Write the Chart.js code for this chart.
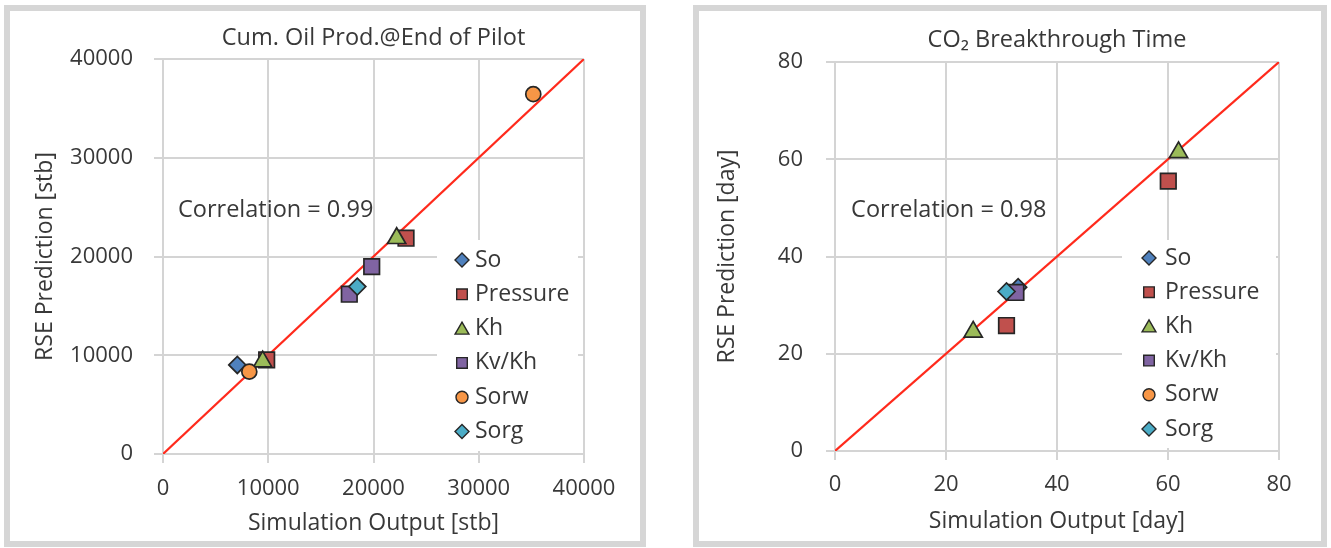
<!DOCTYPE html>
<html><head><meta charset="utf-8">
<script src="https://cdn.jsdelivr.net/npm/chart.js@4.4.0/dist/chart.umd.min.js"></script>
<style>
html,body{margin:0;padding:0;background:#fff;}
body{width:1331px;height:548px;position:relative;overflow:hidden;}
.panel{position:absolute;border:6px solid #d6d6d6;box-sizing:border-box;background:#fff;}
.cw{position:absolute;}
</style></head><body>
<div class="panel" style="left:4px;top:5px;width:642px;height:542px;"></div>
<div class="panel" style="left:693px;top:5px;width:634px;height:542px;"></div>
<div class="cw" style="left:11px;top:11px;width:628px;height:528px;"><canvas id="c1"></canvas></div>
<div class="cw" style="left:699px;top:11px;width:622px;height:528px;"><canvas id="c2"></canvas></div>
<script>
// ---------- data ----------
const seriesNames = ['So', 'Pressure', 'Kh', 'Kv/Kh', 'Sorw', 'Sorg'];

// Cum. Oil Prod. @ End of Pilot  (simulation output vs RSE prediction, stb)
const oilSimSo = [7060],            oilRseSo = [9020];
const oilSimPressure = [9850, 23090], oilRsePressure = [9520, 21850];
const oilSimKh = [9470, 22200],     oilRseKh = [9350, 21850];
const oilSimKvKh = [17700, 19830],  oilRseKvKh = [16180, 18970];
const oilSimSorw = [8200, 35180],   oilRseSorw = [8340, 36440];
const oilSimSorg = [18460],         oilRseSorg = [16950];
const oilDiag = [0, 40000];
const oilTicks = [0, 10000, 20000, 30000, 40000];

// CO2 Breakthrough Time (day)
const co2SimSo = [33.0],            co2RseSo = [33.7];
const co2SimPressure = [30.9, 60.05], co2RsePressure = [25.8, 55.5];
const co2SimKh = [24.9, 61.9],      co2RseKh = [24.5, 61.4];
const co2SimKvKh = [32.6],          co2RseKvKh = [32.6];
const co2SimSorw = [],              co2RseSorw = [];
const co2SimSorg = [30.9],          co2RseSorg = [32.8];
const co2Diag = [0, 80];
const co2Ticks = [0, 20, 40, 60, 80];

// ---------- styles ----------
const seriesFill = ['#4f81bd', '#c0504d', '#9bbb59', '#8064a2', '#f79646', '#4bacc6'];
const seriesShape = ['rectRot', 'rect', 'triangle', 'rect', 'circle', 'rectRot'];
const seriesRadius = [8.5, 11, 10.5, 11, 7.5, 8.5];
const legendRadius = [7, 7.5, 8, 7.5, 6, 7];
const textColor = '#383838';
const gridColor = '#d4d4d4';
const FONT = "'Open Sans', sans-serif";

Chart.defaults.font.family = FONT;
Chart.defaults.color = textColor;

function makeDatasets(sims, rses, diag) {
  const ds = seriesNames.map((n, i) => ({
    label: n,
    data: sims[i].map((x, k) => ({x: x, y: rses[i][k]})),
    pointStyle: seriesShape[i],
    pointRadius: seriesRadius[i],
    pointHoverRadius: seriesRadius[i],
    backgroundColor: seriesFill[i],
    borderColor: '#262626',
    borderWidth: 1.7,
    showLine: false,
    order: seriesNames.length - i
  }));
  ds.push({
    label: 'y = x',
    data: diag.map(v => ({x: v, y: v})),
    showLine: true,
    borderColor: '#ff2a1c',
    borderWidth: 2.2,
    pointRadius: 0,
    order: 100
  });
  return ds;
}

const overlayPlugin = {
  id: 'overlay',
  afterDatasetsDraw(chart, args, o) {
    const ctx = chart.ctx;
    const ca = chart.chartArea;
    ctx.save();
    const xs = chart.scales.x, ys = chart.scales.y;
    ctx.fillStyle = textColor;
    ctx.font = '23.5px ' + FONT;
    ctx.textAlign = 'left';
    ctx.textBaseline = 'middle';
    ctx.fillText(o.note.text, xs.getPixelForValue(o.note.x), ys.getPixelForValue(o.note.y));
    const L = o.legend;
    ctx.fillStyle = '#ffffff';
    ctx.fillRect(ca.left + L.left, ca.top + L.top, L.width, L.height);
    seriesNames.forEach((n, i) => {
      const y = ca.top + L.rowY + i * L.rowStep;
      ctx.fillStyle = seriesFill[i];
      ctx.strokeStyle = '#262626';
      ctx.lineWidth = 1.4;
      Chart.helpers.drawPoint(ctx, {pointStyle: seriesShape[i], radius: legendRadius[i], rotation: 0, borderWidth: 1.4},
        ca.left + L.markerX, y + (seriesShape[i] === 'triangle' ? 1.5 : 0));
      ctx.fillStyle = textColor;
      ctx.font = '23px ' + FONT;
      ctx.textAlign = 'left';
      ctx.textBaseline = 'middle';
      ctx.fillText(n, ca.left + L.textX, y);
    });
    ctx.restore();
  }
};

function buildChart(id, p) {
  return new Chart(document.getElementById(id), {
    type: 'scatter',
    data: {datasets: makeDatasets(p.sims, p.rses, p.diag)},
    plugins: [overlayPlugin],
    options: {
      responsive: true,
      maintainAspectRatio: false,
      animation: false,
      events: [],
      layout: {padding: {left: 0, right: p.padRight, top: 0, bottom: 0}},
      plugins: {
        legend: {display: false},
        tooltip: {enabled: false},
        title: {
          display: true, text: p.title, fullSize: false,
          color: textColor, font: {size: 23.5, weight: 'normal', family: FONT},
          padding: {top: p.titleTop, bottom: p.titleBottom}
        },
        overlay: {note: p.note, legend: p.legend}
      },
      scales: {
        x: {
          type: 'linear', min: p.ticks[0], max: p.ticks[p.ticks.length - 1],
          afterBuildTicks: (s) => { s.ticks = p.ticks.map(v => ({value: v})); },
          afterFit: (s) => { s.height = p.xHeight; },
          ticks: {font: {size: 22}, color: textColor, padding: p.xTickPad, maxRotation: 0, callback: v => String(v)},
          grid: {color: gridColor, lineWidth: 2, tickLength: 9, drawTicks: true},
          border: {color: gridColor, width: 2},
          title: {display: true, text: p.xTitle, font: {size: 23}, color: textColor, padding: {top: 0, bottom: p.xTitlePad}}
        },
        y: {
          type: 'linear', min: p.ticks[0], max: p.ticks[p.ticks.length - 1],
          afterBuildTicks: (s) => { s.ticks = p.ticks.map(v => ({value: v})); },
          afterFit: (s) => { s.width = p.yWidth; },
          ticks: {font: {size: 22}, color: textColor, padding: p.yTickPad, callback: v => String(v)},
          grid: {color: gridColor, lineWidth: 2, tickLength: 9, drawTicks: true},
          border: {color: gridColor, width: 2},
          title: {display: true, text: p.yTitle, font: {size: 23}, color: textColor, padding: {top: p.yTitlePad, bottom: 0}}
        }
      }
    }
  });
}

buildChart('c1', {
  sims: [oilSimSo, oilSimPressure, oilSimKh, oilSimKvKh, oilSimSorw, oilSimSorg],
  rses: [oilRseSo, oilRsePressure, oilRseKh, oilRseKvKh, oilRseSorw, oilRseSorg],
  diag: oilDiag, ticks: oilTicks,
  title: 'Cum. Oil Prod.@End of Pilot',
  xTitle: 'Simulation Output [stb]', yTitle: 'RSE Prediction [stb]',
  padRight: 55, titleTop: 12.9, titleBottom: 6.9,
  xHeight: 85, yWidth: 152, xTickPad: 12.8, yTickPad: 21, xTitlePad: 2.2, yTitlePad: 20.2,
  note: {text: 'Correlation = 0.99', x: 1425, y: 24700},
  legend: {left: 274, top: 181, width: 141, height: 211, markerX: 299, textX: 312, rowY: 201, rowStep: 34.3}
});

buildChart('c2', {
  sims: [co2SimSo, co2SimPressure, co2SimKh, co2SimKvKh, co2SimSorw, co2SimSorg],
  rses: [co2RseSo, co2RsePressure, co2RseKh, co2RseKvKh, co2RseSorw, co2RseSorg],
  diag: co2Diag, ticks: co2Ticks,
  title: 'CO\u2082 Breakthrough Time',
  xTitle: 'Simulation Output [day]', yTitle: 'RSE Prediction [day]',
  padRight: 42, titleTop: 14.9, titleBottom: 7.9,
  xHeight: 88, yWidth: 136, xTickPad: 11.8, yTickPad: 23, xTitlePad: 4.2, yTitlePad: 14.2,
  note: {text: 'Correlation = 0.98', x: 2.9, y: 49.4},
  legend: {left: 287, top: 178, width: 154, height: 208, markerX: 314, textX: 330, rowY: 196, rowStep: 34.2}
});
</script>
</body></html>
